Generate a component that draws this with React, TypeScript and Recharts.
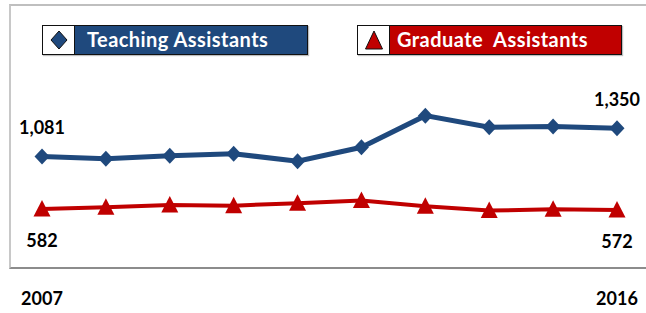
import React from 'react';
import { LineChart, Line, XAxis, YAxis, LabelList } from 'recharts';

const years = ['2007', '2008', '2009', '2010', '2011', '2012', '2013', '2014', '2015', '2016'];
const teachingAssistants = [1081, 1059, 1088, 1107, 1036, 1169, 1470, 1359, 1366, 1350];
const graduateAssistants = [582, 598, 620, 613, 636, 661, 608, 566, 578, 572];
const seriesNames = ['Teaching Assistants', 'Graduate  Assistants'];
const shownTicks = ['2007', '2016'];

const BLUE = '#1F497D';
const RED = '#C00000';
const FONT = 'Lato, "Open Sans", sans-serif';

const data = years.map((y, i) => ({
  year: y,
  ta: teachingAssistants[i],
  ga: graduateAssistants[i],
}));

const fmt = (v: number) => v.toLocaleString('en-US');

const Diamond = (props: any) => {
  const { cx, cy, index } = props;
  if (cx == null || cy == null) return <g key={index} />;
  return (
    <path
      key={index}
      d={`M${cx},${cy - 8} L${cx + 7.5},${cy} L${cx},${cy + 8} L${cx - 7.5},${cy} Z`}
      fill={BLUE}
    />
  );
};

const Triangle = (props: any) => {
  const { cx, cy, index } = props;
  if (cx == null || cy == null) return <g key={index} />;
  return (
    <path
      key={index}
      d={`M${cx},${cy - 9} L${cx + 8.5},${cy + 7.5} L${cx - 8.5},${cy + 7.5} Z`}
      fill={RED}
    />
  );
};

const makeLabel = (dy: number) => (props: any) => {
  const { x, y, value, index } = props;
  if (index !== 0 && index !== years.length - 1) return null;
  return (
    <text
      x={x}
      y={y + dy}
      textAnchor="middle"
      dominantBaseline="central"
      fontFamily={FONT}
      fontWeight={700}
      fontSize={18}
      fill="#000"
    >
      {fmt(value)}
    </text>
  );
};

const YearTick = (props: any) => {
  const { x, y, payload } = props;
  if (!shownTicks.includes(payload.value)) return null;
  return (
    <text
      x={x}
      y={y}
      dy={28}
      textAnchor="middle"
      dominantBaseline="central"
      fontFamily={FONT}
      fontWeight={700}
      fontSize={18}
      fill="#000"
    >
      {payload.value}
    </text>
  );
};

const LegendBox = ({ left, width, color, name, icon, pad }: any) => (
  <div
    style={{
      position: 'absolute',
      left,
      top: 25,
      width,
      height: 30,
      display: 'flex',
      border: '1.5px solid #111',
      boxSizing: 'border-box',
      boxShadow: '1px 1px 1px rgba(0,0,0,0.25)',
    }}
  >
    <div
      style={{
        width: 31,
        background: '#fff',
        borderRight: '1.5px solid #111',
        display: 'flex',
        alignItems: 'center',
        justifyContent: 'center',
      }}
    >
      <svg width={22} height={22}>
        {icon === 'diamond' ? (
          <path d="M11,2 L19,11 L11,20 L3,11 Z" fill={color} stroke="#111" strokeWidth={1} />
        ) : (
          <path d="M11,2 L19.5,20 L2.5,20 Z" fill={color} stroke="#111" strokeWidth={1} />
        )}
      </svg>
    </div>
    <div
      style={{
        flex: 1,
        background: color,
        color: '#fff',
        fontFamily: FONT,
        fontWeight: 700,
        fontSize: 20,
        letterSpacing: 0.45,
        lineHeight: '26px',
        paddingLeft: pad,
        whiteSpace: 'pre',
      }}
    >
      {name}
    </div>
  </div>
);

export default function App() {
  return (
    <div style={{ position: 'absolute', left: 0, top: 0, width: 646, height: 313, background: '#fff', overflow: 'hidden' }}>
      <div
        style={{
          position: 'absolute',
          left: 9,
          top: 4,
          width: 645,
          height: 265,
          boxSizing: 'border-box',
          borderTop: '2px solid #bfbfbf',
          borderLeft: '2px solid #c8c8c8',
          borderBottom: '2px solid #8c8c8c',
        }}
      />
      <LegendBox left={42} width={266} color={BLUE} name={seriesNames[0]} icon="diamond" pad={12} />
      <LegendBox left={357} width={265} color={RED} name={seriesNames[1]} icon="triangle" pad={7} />
      <div style={{ position: 'absolute', left: 0, top: 0 }}>
        <LineChart width={646} height={313} data={data} margin={{ top: 102, right: 29, bottom: 13, left: 42 }}>
          <XAxis
            dataKey="year"
            axisLine={false}
            tickLine={false}
            tickSize={0}
            tickMargin={0}
            height={30}
            interval={0}
            tick={<YearTick />}
          />
          <YAxis hide domain={[0, 1600]} />
          <Line
            type="linear"
            dataKey="ta"
            stroke={BLUE}
            strokeWidth={5}
            dot={Diamond}
            activeDot={false}
            isAnimationActive={false}
          >
            <LabelList dataKey="ta" content={makeLabel(-29)} />
          </Line>
          <Line
            type="linear"
            dataKey="ga"
            stroke={RED}
            strokeWidth={4}
            dot={Triangle}
            activeDot={false}
            isAnimationActive={false}
          >
            <LabelList dataKey="ga" content={makeLabel(31)} />
          </Line>
        </LineChart>
      </div>
    </div>
  );
}
